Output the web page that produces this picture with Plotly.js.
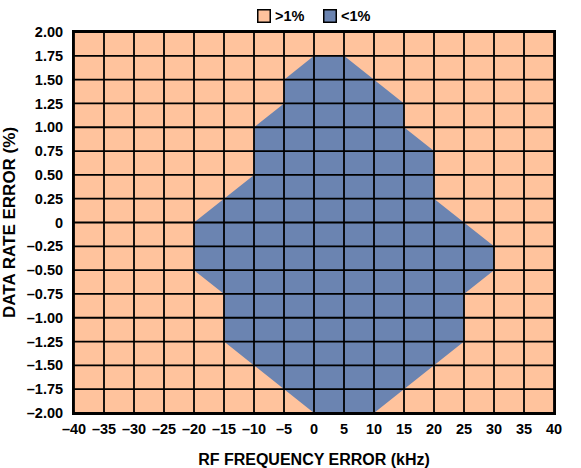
<!DOCTYPE html>
<html>
<head>
<meta charset="utf-8">
<script src="https://cdn.plot.ly/plotly-3.0.1.min.js"></script>
<style>html,body{margin:0;padding:0;background:#fff;}#chart{width:581px;height:468px;}</style>
</head>
<body>
<div id="chart"></div>
<script>
// Axis ticks
const xTicks = [-40,-35,-30,-25,-20,-15,-10,-5,0,5,10,15,20,25,30,35,40];
const xTickText = ['\u201340','\u201335','\u201330','\u201325','\u201320','\u201315','\u201310','\u20135','0','5','10','15','20','25','30','35','40'];
const yTicks = [-2,-1.75,-1.5,-1.25,-1,-0.75,-0.5,-0.25,0,0.25,0.5,0.75,1,1.25,1.5,1.75,2];
const yTickText = ['\u20132.00','\u20131.75','\u20131.50','\u20131.25','\u20131.00','\u20130.75','\u20130.50','\u20130.25','0','0.25','0.50','0.75','1.00','1.25','1.50','1.75','2.00'];

// Region where data rate error < 1% (boundary polygon, kHz vs %)
const regionX = [0, 5, 15, 15, 20, 20, 30, 30, 25, 25, 10, 0, -15, -15, -20, -20, -10, -10, -5, -5, 0];
const regionY = [1.75, 1.75, 1.25, 1.0, 0.75, 0.25, -0.25, -0.5, -0.75, -1.25, -2, -2, -1.25, -0.75, -0.5, 0, 0.5, 1.0, 1.25, 1.5, 1.75];

const seriesNames = ['>1%', '<1%'];
const PEACH = '#FFC39D';
const BLUE = '#6B84B1';

const xMin = xTicks[0], xMax = xTicks[xTicks.length-1];
const yMin = yTicks[0], yMax = yTicks[yTicks.length-1];

// grid lines built from tick values so they sit above the filled region
const gx = [], gy = [];
xTicks.forEach(v => { gx.push(v, v, null); gy.push(yMin, yMax, null); });
yTicks.forEach(v => { gx.push(xMin, xMax, null); gy.push(v, v, null); });

const font = {family: 'Liberation Sans, Arial, sans-serif', color: '#000', weight: 'bold'};
const f = s => Object.assign({size: s}, font);

const traces = [
  {x: regionX, y: regionY, type: 'scatter', mode: 'lines', fill: 'toself', name: seriesNames[1],
   fillcolor: BLUE, line: {width: 0, color: BLUE}, showlegend: false, hoverinfo: 'skip'},
  {x: gx, y: gy, type: 'scatter', mode: 'lines', line: {color: '#000', width: 1.8},
   showlegend: false, hoverinfo: 'skip'}
];

// legend (key boxes + labels) placed above the plot
const legendItems = [
  {name: seriesNames[0], color: PEACH, boxX: 0.3958, textX: 0.4146},
  {name: seriesNames[1], color: BLUE, boxX: 0.5323, textX: 0.5521}
];
const annotations = [];
legendItems.forEach(it => {
  annotations.push({xref: 'paper', yref: 'paper', x: it.boxX, y: 1.0407, xanchor: 'center', yanchor: 'middle',
    text: '\u00a0', showarrow: false, width: 11, height: 11, bgcolor: it.color,
    bordercolor: '#000', borderwidth: 1.5, borderpad: 0, font: f(8)});
  annotations.push({xref: 'paper', yref: 'paper', x: it.textX, y: 1.0407, xanchor: 'left', yanchor: 'middle',
    text: it.name, showarrow: false, font: f(14.5)});
});

const layout = {
  width: 581, height: 468,
  margin: {l: 74, r: 27, t: 32, b: 55},
  paper_bgcolor: '#fff',
  plot_bgcolor: PEACH,
  font: f(14),
  showlegend: false,
  annotations: annotations,
  xaxis: {range: [xMin, xMax], tickvals: xTickText.map((_, i) => xTicks[i]), ticktext: xTickText,
          showgrid: false, zeroline: false, showline: true, mirror: true,
          linecolor: '#000', linewidth: 2, ticks: '', ticklen: 0, ticklabelstandoff: 2,
          tickfont: f(14.5), fixedrange: true,
          title: {text: 'RF FREQUENCY ERROR (kHz)', font: f(16), standoff: 18}},
  yaxis: {range: [yMin, yMax], tickvals: yTicks, ticktext: yTickText,
          showgrid: false, zeroline: false, showline: true, mirror: true,
          linecolor: '#000', linewidth: 2, ticks: '', ticklen: 0, ticklabelstandoff: 6,
          tickfont: f(14.5), fixedrange: true,
          title: {text: 'DATA RATE ERROR (%)', font: f(17), standoff: 8}}
};

Plotly.newPlot('chart', traces, layout, {displayModeBar: false, staticPlot: true});
</script>
</body>
</html>
